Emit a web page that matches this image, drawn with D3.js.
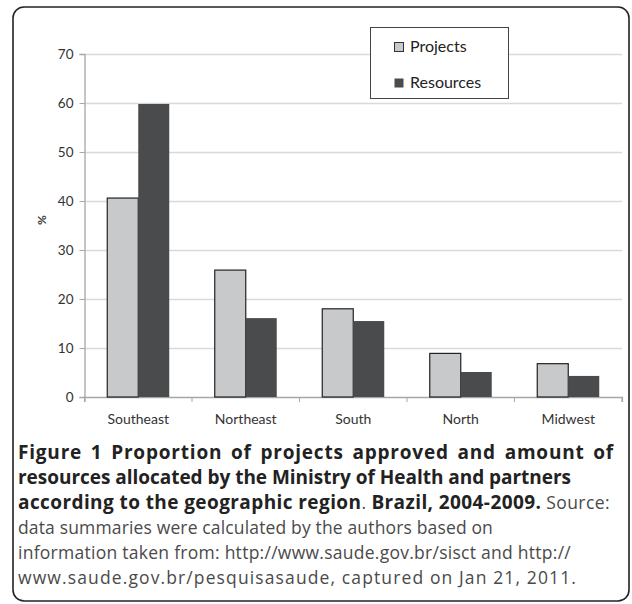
<!DOCTYPE html>
<html><head><meta charset="utf-8">
<script src="https://cdn.jsdelivr.net/npm/d3@7"></script>
<style>
body{margin:0;background:#fff;}
svg{display:block;}
</style></head>
<body>
<svg id="c" width="632" height="604"></svg>
<script>
const categories = ["Southeast","Northeast","South","North","Midwest"];
const seriesNames = ["Projects","Resources"];
const projects = [40.6, 25.9, 18.0, 8.9, 6.8];
const resources = [59.8, 16.1, 15.5, 5.1, 4.3];
const yTicks = [0,10,20,30,40,50,60,70];

const colors = {Projects:"#c8c9cb", Resources:"#4a4b4d"};
const svg = d3.select("#c");

// outer rounded frame
svg.append("rect").attr("x",13).attr("y",7).attr("width",616).attr("height",594)
  .attr("rx",11).attr("fill","none").attr("stroke","#222").attr("stroke-width",1.6);

const pLeft=84.5, pRight=622, pTop=54, pBottom=397;
const x0 = d3.scaleBand().domain(categories).range([pLeft,pRight]).paddingInner(0).paddingOuter(0);
const x1 = d3.scaleBand().domain(seriesNames).range([0,x0.bandwidth()]).paddingInner(0).paddingOuter(0.734);
const y = d3.scaleLinear().domain([0,70]).range([pBottom,pTop]);

// gridlines
svg.append("g").selectAll("line").data(yTicks.filter(d=>d>0)).join("line")
  .attr("x1",pLeft).attr("x2",pRight).attr("y1",d=>Math.round(y(d))+0.5).attr("y2",d=>Math.round(y(d))+0.5)
  .attr("stroke","#d9d9d9").attr("stroke-width",1.5);

const tickFont = "Lato, 'Open Sans', sans-serif";
// y axis
const yAxis = d3.axisLeft(y).tickValues(yTicks).tickSize(5).tickPadding(6);
const gy = svg.append("g").attr("transform",`translate(${pLeft},0)`).call(yAxis);
gy.select(".domain").attr("stroke","#a6a6a6").attr("stroke-width",1.3);
gy.selectAll(".tick line").attr("stroke","#a6a6a6");
gy.selectAll(".tick text").attr("font-family",tickFont).attr("font-size",13.5).attr("fill","#333");

// x axis
const xAxis = d3.axisBottom(x0).tickSize(5).tickPadding(12).tickSizeOuter(5);
const gx = svg.append("g").attr("transform",`translate(0,${pBottom})`).call(xAxis);
gx.select(".domain").attr("stroke","#a6a6a6").attr("stroke-width",1.3);
gx.selectAll(".tick line").attr("stroke","#a6a6a6").attr("transform",`translate(${-x0.bandwidth()/2},0)`);
gx.selectAll(".tick text").attr("font-family",tickFont).attr("font-size",14).attr("fill","#333");
gx.append("line").attr("x1",pRight).attr("x2",pRight).attr("y1",0).attr("y2",5).attr("stroke","#a6a6a6");

// bars
const rows = categories.map((c,i)=>({cat:c, vals:[{k:"Projects",v:projects[i]},{k:"Resources",v:resources[i]}]}));
const groups = svg.append("g").selectAll("g").data(rows).join("g")
  .attr("transform",d=>`translate(${x0(d.cat)},0)`);
groups.selectAll("rect").data(d=>d.vals).join("rect")
  .attr("x",d=>x1(d.k)).attr("width",x1.bandwidth())
  .attr("y",d=>y(d.v)).attr("height",d=>y(0)-y(d.v))
  .attr("fill",d=>colors[d.k])
  .attr("stroke",d=>d.k==="Projects"?"#222":"none").attr("stroke-width",1.2);

// y label
svg.append("text").attr("transform","translate(46,220) rotate(-90)")
  .attr("text-anchor","middle").attr("font-family",tickFont).attr("font-size",12).attr("font-weight","bold").attr("fill","#333").text("%");

// legend
const lg = svg.append("g");
lg.append("rect").attr("x",370.5).attr("y",27.5).attr("width",138).attr("height",71)
  .attr("fill","#fff").attr("stroke","#444").attr("stroke-width",1);
seriesNames.forEach((s,i)=>{
  const yy = 42 + i*36;
  lg.append("rect").attr("x",394.5).attr("y",yy+0.5).attr("width",9).attr("height",9)
    .attr("fill",colors[s]).attr("stroke",s==="Projects"?"#333":"none");
  lg.append("text").attr("x",410).attr("y",yy+10).attr("font-family",tickFont)
    .attr("font-size",16).attr("fill","#222").text(s);
});

// caption
const cap = svg.append("g").attr("font-family","'Open Sans', sans-serif");
const bold = 19, reg = 17.5;
function line(yb, parts, target, justify){
  const t = cap.append("text").attr("x",18).attr("y",yb);
  parts.forEach(p=>t.append("tspan").attr("font-weight",p[1]?"bold":"normal")
     .attr("fill",p[1]?"#222":"#4a4a4a").attr("font-size",p[1]?bold:reg).text(p[0]));
  const txt = parts.map(p=>p[0]).join("");
  const L = t.node().getComputedTextLength();
  const extra = target - 18 - L;
  if (justify) {
    const spaces = (txt.match(/ /g)||[]).length;
    const ls = Math.max(0, (extra - 3*spaces)/txt.length);
    t.attr("letter-spacing", ls);
    const L2 = t.node().getComputedTextLength();
    t.attr("word-spacing", (target - 18 - L2)/spaces);
  } else {
    t.attr("letter-spacing", extra/(txt.length));
  }
  return t;
}
line(459,[["Figure 1 Proportion of projects approved and amount of",1]], 614, true);
line(484,[["resources allocated by the Ministry of Health and partners",1]], 571);
line(509,[["according to the geographic region",1],[". ",0],["Brazil, 2004-2009.",1],[" Source:",0]], 610);
line(534,[["data summaries were calculated by the authors based on",0]], 493);
line(559,[["information taken from: http://www.saude.gov.br/sisct and http://",0]], 571);
line(584,[["www.saude.gov.br/pesquisasaude, captured on Jan 21, 2011.",0]], 577);
</script>
</body></html>
